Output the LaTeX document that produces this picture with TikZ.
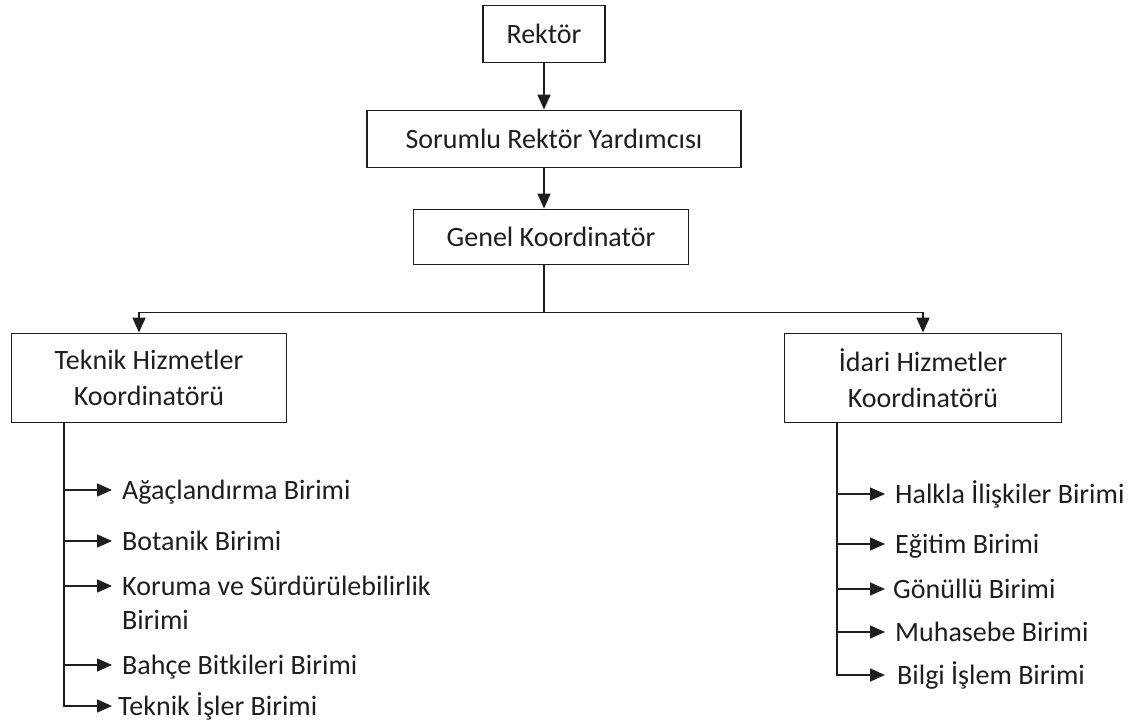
\documentclass[tikz,border=0pt]{standalone}
\usepackage{fontspec}
\setmainfont{Carlito}
\usepackage{tikz}
\usepackage{xcolor}
\usetikzlibrary{arrows.meta}
\definecolor{ink}{HTML}{1E1E1E}
\tikzstyle{every node}=[font=\fontsize{28pt}{36pt}\selectfont, text=ink]
\tikzstyle{block} = [rectangle, draw=ink, line width=1.8pt, align=center, inner sep=0pt, minimum height=57pt]
\tikzstyle{unit} = [anchor=west, align=left, inner xsep=10pt, inner ysep=0pt, text height=18pt, text depth=0pt]
\tikzstyle{line} = [draw=ink, line width=1.6pt, -{Triangle[length=15pt,width=13pt]}]

\begin{document}
\begin{tikzpicture}[x=1pt, y=1pt]
    \useasboundingbox (0,0) rectangle (1141,-727);
    % Place nodes
    \node [block, minimum width=122pt] (rektor) at (544,-34) {Rektör};
    \node [block, minimum width=374pt] (sorumlu) at (554,-139) {Sorumlu Rektör Yardımcısı};
    \node [block, minimum width=275pt, minimum height=55pt] (genel) at (551,-237) {Genel Koordinatör};
    \node [block, minimum width=275pt, minimum height=89pt] (teknik) at (149,-378) {Teknik Hizmetler\\Koordinatörü};
    \node [block, minimum width=277pt, minimum height=89pt] (idari) at (923,-378) {İdari Hizmetler\\Koordinatörü};
    \coordinate (tleft) at (64,-423);
    \coordinate (ileft) at (837,-423);
    % Teknik units
    \node [unit] (agac) at (112,-490) {Ağaçlandırma Birimi};
    \node [unit] (botanik) at (112,-541) {Botanik Birimi};
    \node [unit, anchor=north west, text height=52pt, font=\fontsize{28pt}{34pt}\selectfont] (koruma) at (112,-577) {Koruma ve Sürdürülebilirlik\\Birimi};
    \node [unit] (bahce) at (112,-665) {Bahçe Bitkileri Birimi};
    \node [unit, inner xsep=6pt] (teknikis) at (112,-706) {Teknik İşler Birimi};
    % Idari units
    \node [unit] (halkla) at (885,-494) {Halkla İlişkiler Birimi};
    \node [unit] (egitim) at (885,-544) {Eğitim Birimi};
    \node [unit, inner xsep=8pt] (gonullu) at (885,-589) {Gönüllü Birimi};
    \node [unit] (muhasebe) at (885,-632) {Muhasebe Birimi};
    \node [unit, inner xsep=12pt] (bilgi) at (885,-675) {Bilgi İşlem Birimi};
    % Draw edges
    \path [line] (rektor.south) -- (rektor.south |- sorumlu.north);
    \path [line] (rektor.south |- sorumlu.south) -- (rektor.south |- genel.north);
    \path [line] (rektor.south |- genel.south) -- ++(0,-47) -| ([xshift=-10pt]teknik.north);
    \path [line] (rektor.south |- genel.south) -- ++(0,-47) -| (idari.north);
    \path [line] (tleft) |- (agac.west);
    \path [line] (tleft) |- (botanik.west);
    \path [line] (tleft) |- ([yshift=-9pt]koruma.north west);
    \path [line] (tleft) |- (bahce.west);
    \path [line] (tleft) |- (teknikis.west);
    \path [line] (ileft) |- (halkla.west);
    \path [line] (ileft) |- (egitim.west);
    \path [line] (ileft) |- (gonullu.west);
    \path [line] (ileft) |- (muhasebe.west);
    \path [line] (ileft) |- (bilgi.west);
\end{tikzpicture}
\end{document}
